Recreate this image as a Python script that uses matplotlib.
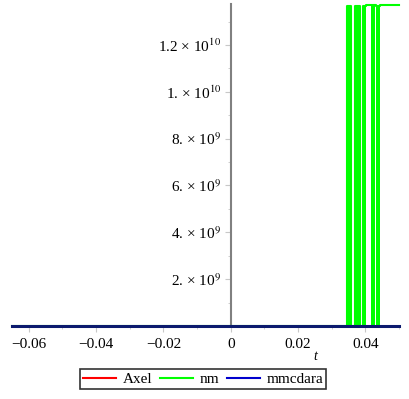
import matplotlib
matplotlib.use("Agg")
import matplotlib.pyplot as plt
from matplotlib.lines import Line2D
from matplotlib.ticker import FixedLocator, MultipleLocator
import numpy as np

plt.rcParams["font.family"] = ["Liberation Serif", "DejaVu Serif"]
plt.rcParams["mathtext.fontset"] = "stix"

# series (t, value)
axel_t = [-0.065, 0.05]
axel_y = [0.0, 0.0]
mmcdara_t = [-0.065, 0.05]
mmcdara_y = [0.0, 0.0]

# nm: rapid oscillation bands plus a saturated tail
nm_t = [-0.065, 0.0344, 0.0344, 0.0357, 0.0357, 0.0369, 0.0369, 0.0385,
        0.0385, 0.0392, 0.0392, 0.0403, 0.0403, 0.0416, 0.0416, 0.0428,
        0.0428, 0.0432, 0.0432, 0.0443, 0.0443, 0.05]
nm_y = [0, 0, 1.368e10, 1.368e10, 0, 0, 1.368e10, 1.368e10,
        0, 0, 1.368e10, 1.368e10, 1.372e10, 1.372e10, 1.372e10, 1.372e10,
        1.372e10, 1.372e10, 1.368e10, 1.368e10, 1.372e10, 1.372e10]
nm_bands = [(0.0344, 0.0357), (0.0369, 0.0385), (0.0392, 0.0403),
            (0.0416, 0.0428), (0.0432, 0.0443)]
nm_band_top = 1.368e10

xticks = [-0.06, -0.04, -0.02, 0, 0.02, 0.04]
xticklabels = ["\u22120.06", "\u22120.04", "\u22120.02", "0", "0.02", "0.04"]
yticks = [2e9, 4e9, 6e9, 8e9, 1e10, 1.2e10]
yticklabels = ["2. \u00d7 10$^{9}$", "4. \u00d7 10$^{9}$",
               "6. \u00d7 10$^{9}$", "8. \u00d7 10$^{9}$",
               "1. \u00d7 10$^{10}$", "1.2 \u00d7 10$^{10}$"]

fig = plt.figure(figsize=(4.09, 3.99), dpi=100)
ax = fig.add_axes([12 / 409, 73 / 399, 387 / 409, 322 / 399])

green = "#00FF00"
ax.plot(axel_t, axel_y, color="#FF0000", lw=2, clip_on=False, zorder=3)
for a, b in nm_bands:
    ax.fill_between([a, b], 0, nm_band_top, color=green, lw=0, zorder=2)
ax.plot(nm_t, nm_y, color=green, lw=1.5, clip_on=False, zorder=3)
ax.plot(mmcdara_t, mmcdara_y, color="#0c1a6e", lw=2.2, clip_on=False, zorder=4)

ax.set_xlim(-0.065, 0.05)
ax.set_ylim(0, 1.375e10)

for s in ["top", "right"]:
    ax.spines[s].set_visible(False)
ax.spines["left"].set_position(("data", 0))
ax.spines["left"].set_color("#808080")
ax.spines["left"].set_linewidth(1.5)
ax.spines["bottom"].set_color("#808080")

ax.xaxis.set_major_locator(FixedLocator(xticks))
ax.set_xticklabels(xticklabels)
ax.xaxis.set_minor_locator(MultipleLocator(0.01))
ax.yaxis.set_major_locator(FixedLocator(yticks))
ax.set_yticklabels(yticklabels)
ax.yaxis.set_minor_locator(MultipleLocator(1e9))
ax.tick_params(which="both", direction="out", color="#c8c8c8", labelsize=11)
ax.tick_params(which="major", length=4, pad=5)
ax.tick_params(which="minor", length=2)
ax.tick_params(axis="y", pad=3)

fig.text(315 / 409, 1 - 357 / 399, "t", style="italic", fontsize=10,
         ha="center", va="center")

handles = [Line2D([], [], color="#FF0000", lw=1.5),
           Line2D([], [], color=green, lw=1.5),
           Line2D([], [], color="#0000CD", lw=1.5)]
leg = fig.legend(handles, ["Axel", "nm", "mmcdara"], loc="center",
                 bbox_to_anchor=(203 / 409, 1 - 379 / 399), ncol=3, fontsize=11,
                 frameon=True, fancybox=False, handlelength=2.2,
                 handletextpad=0.4, columnspacing=0.5, borderpad=0.2,
                 borderaxespad=0)
leg.get_frame().set_edgecolor("black")
leg.get_frame().set_linewidth(1.2)

fig.savefig("out.png", dpi=100)
